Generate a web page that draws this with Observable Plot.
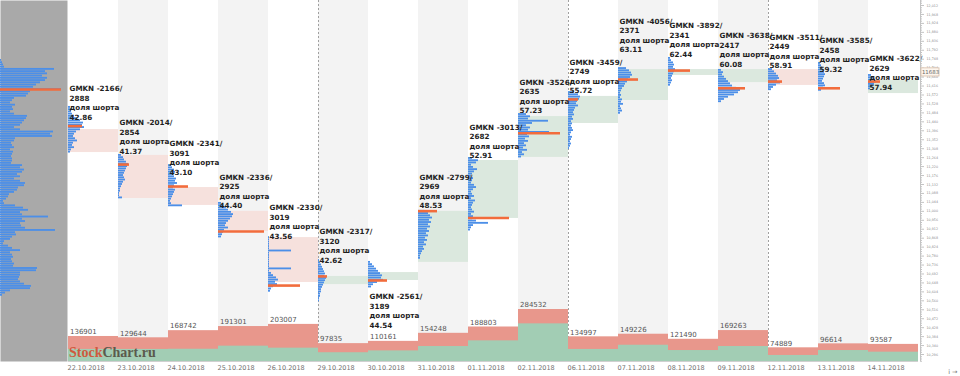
<!DOCTYPE html>
<html><head><meta charset="utf-8">
<script src="https://cdn.jsdelivr.net/npm/d3@7"></script>
<script src="https://cdn.jsdelivr.net/npm/@observablehq/plot@0.6"></script>
<style>
body{margin:0;background:#fff;}
#wrap{position:relative;width:960px;height:376px;overflow:hidden;font-family:"DejaVu Sans",sans-serif;}
#wrap svg{position:absolute;top:0;left:0;}
#wm{position:absolute;left:69px;top:346px;font:bold 14px/14px "Liberation Serif",serif;letter-spacing:0;}
</style></head><body><div id="wrap"></div>
<script>
// ---------- data ----------
const dates = ["22.10.2018","23.10.2018","24.10.2018","25.10.2018","26.10.2018","29.10.2018","30.10.2018","31.10.2018","01.11.2018","02.11.2018","06.11.2018","07.11.2018","08.11.2018","09.11.2018","12.11.2018","13.11.2018","14.11.2018"];
const volTotal = [136901,129644,168742,191301,203007,97835,110161,154248,188803,284532,134997,149226,121490,169263,74889,96614,93587];
const volGreen = [66000,66000,67000,84000,73000,48000,58000,82000,113000,206000,66000,89000,60000,82000,33000,60000,51000];
const shortNet = [-2166,-2014,-2341,-2336,-2330,-2317,-2561,-2799,-3013,-3526,-3459,-4056,-3892,-3638,-3511,-3585,-3622];
const shortLong = [2888,2854,3091,2925,3019,3120,3189,2969,2682,2635,2749,2371,2341,2417,2449,2458,2629];
const shortShare = ["42.86","41.37","43.10","44.40","43.56","42.62","44.54","48.53","52.91","57.23","55.72","63.11","62.44","60.08","58.91","59.32","57.94"];
const noteLevel = [11604,11437,11334,11168,11020,10901,10581,11168,11414,11635,11733,11935,11914,11864,11856,11840,11751];
const openPx  = [11402,11275,11117,11000,10871,10640,10660,10749,10965,11265,11432,11545,11668,11633,11697,11605,11579];
const closePx = [11289,11063,11029,10901,10650,10680,10699,11000,11250,11466,11565,11697,11697,11697,11619,11605,11643];
const pocPrice = [11419,11230,11122,10901,10635,10680,10660,11001,10967,11384,11550,11648,11692,11605,11638,11605,11638];
const pocVol   = [14,11,20,46,32,9,19,19,41,42,10,20,22,27,14,22,12];
const profileTop = [11511,11275,11225,11039,10871,10758,10749,11000,11260,11476,11584,11702,11752,11693,11697,11727,11668];
const profileVol = [
  [2,3,3,4,6,9,12,15,14,16,12,8,6,5,7,9,5,4,6,3,2],
  [3,5,6,8,10,9,8,7,6,5,6,7,5,4,3,2,2,1,1,4],
  [3,4,6,7,5,6,8,7,9,6,5,7,6,5,4,3,2,3,14],
  [3,5,8,10,13,15,14,12,10,8,7,10,6,5,4,3],
  [1,1,1,1,1,1,23,1,1,1,1,1,1,1,23,1,3,5,8,10,7,9,5,3,2],
  [1,2,3,4,5,6,7,6,8,7,6,5,4,3,3,2,2,1,1],
  [2,4,6,8,10,12,14,13,15,9,5,3],
  [6,10,12,14,11,13,10,12,9,11,8,10,7,9,6,8,5,6,4,3,2,2],
  [4,10,8,3,5,9,6,4,3,5,4,3,6,8,5,3,4,6,3,7,5,4,3,4,6,3,5,4,8,20,5,3,2],
  [8,12,10,30,14,8,12,10,31,9,11,7,10,6,8,5,9,4,6,3],
  [6,10,12,11,9,8,10,7,6,5,6,4,5,3,4,3,4,5,3,2,4,3,2,3,2,1],
  [8,11,13,14,12,10,9,7,6,4,3,2,3,2,4,3,5,2,3,4,2],
  [2,3,5,6,5,7,6,5,4,3,4,3,2],
  [3,5,4,6,8,10,12,14,18,22,20,16,10,6,3],
  [4,6,8,10,11,9,12,8,5,3],
  [2,3,4,5,6,7,6,5,4,6,7,5,3],
  [3,5,7,8,6,4,2]
];
const totalProfileTop = 11742;
const totalProfileVol = [1,2,3,4,54,45,47,42,47,45,40,36,33,61,30,28,26,14,12,10,15,12,13,10,14,27,26,24,22,20,14,20,53,50,52,15,14,11,12,14,10,13,12,11,12,12,11,22,20,24,22,17,20,14,20,25,24,18,17,14,9,8,6,3,4,15,23,28,20,22,48,22,25,20,21,25,55,15,16,12,10,4,3,8,12,20,10,12,13,11,12,14,13,37,36,20,20,19,18,20,24,31,30,10,5,2];
const lastPrice = 11683;
const priceStep = 11;
const majorTicks = d3.range(10296, 12013, 44);
const minorTicks = d3.range(10263, 12036, 11).filter(v => (v - 10296) % 44 !== 0);

// ---------- scales setup ----------
const Y_TOP = 12036.6, Y_BOTTOM = 10261.7;
const DAY_FULL = 50;      // profile volume that fills a full day column
const N = dates.length;
const parse = d3.timeParse("%d.%m.%Y");
const days = dates.map((d, i) => ({
  i, date: d, total: volTotal[i], green: volGreen[i],
  open: openPx[i], close: closePx[i], note: noteLevel[i],
  label: `GMKN ${shortNet[i]}/\n${shortLong[i]}\nдоля шорта\n${shortShare[i]}`,
  poc: pocPrice[i], pocV: pocVol[i]
}));
const weekStarts = days.filter((d, i) => i > 0 && (parse(d.date) - parse(dates[i - 1])) > 86400000 * 1.5).map(d => d.i);
const bins = days.flatMap(d => profileVol[d.i].map((v, k) => ({i: d.i, p: profileTop[d.i] - priceStep * k, v})));
const totalBins = totalProfileVol.map((v, k) => ({p: totalProfileTop - priceStep * k, v}));
const totalPoc = totalBins.reduce((a, b) => b.v > a.v ? b : a);
const h = priceStep * 0.41;

const wrap = document.getElementById("wrap");

const main = Plot.plot({
  width: 960, height: 376, marginLeft: 68, marginRight: 42, marginTop: 0, marginBottom: 15,
  x: {type: "linear", domain: [0, N], axis: null},
  y: {domain: [Y_BOTTOM, Y_TOP], axis: null},
  style: {fontFamily: "DejaVu Sans, sans-serif", background: "white", overflow: "visible"},
  marks: [
    Plot.rect(days.filter(d => d.i % 2 === 1), {x1: "i", x2: d => d.i + 1, y1: () => Y_BOTTOM, y2: () => Y_TOP, fill: "#f3f3f3"}),
    Plot.ruleX(weekStarts, {stroke: "#a0a0a0", strokeDasharray: "2,2", strokeWidth: 1}),
    Plot.rect(days.filter(d => d.close < d.open), {x1: "i", x2: d => d.i + 1, y1: "open", y2: "close", fill: "#f6e1dd"}),
    Plot.rect(days.filter(d => d.close > d.open), {x1: "i", x2: d => d.i + 1, y1: "open", y2: "close", fill: "#dbe8de"}),
    Plot.rect(bins, {x1: "i", x2: d => d.i + d.v / DAY_FULL, y1: d => d.p - h, y2: d => d.p + h, fill: "#4c8fe8"}),
    Plot.ruleY(days, {y: "poc", x1: "i", x2: d => d.i + d.pocV / DAY_FULL, stroke: "#f26c3c", strokeWidth: 2.6}),
    Plot.text(days, {x: "i", y: "note", text: "label", textAnchor: "start", lineAnchor: "top", dx: 1, dy: -4,
      fontSize: 7.2, fontWeight: "bold", lineHeight: 1.32, fill: "#1e1e1e"}),
    Plot.ruleX([N], {dx: 2, stroke: "#c4c4c4"}),
    Plot.ruleY(minorTicks, {x1: () => N + 0.04, x2: () => N + 0.08, stroke: "#c4c4c4"}),
    Plot.axisY(majorTicks, {anchor: "right", tickSize: 3, tickPadding: 3, dx: 2, fontSize: 3.3, fill: "#8a8a8a", stroke: "#c4c4c4"}),
    Plot.rect([lastPrice], {x1: () => N + 0.06, x2: () => N + 0.42, y1: d => d - 20, y2: d => d + 20, fill: "#fdf6ee", stroke: "#d7bca6", strokeWidth: 0.8}),
    Plot.text([lastPrice], {x: () => N + 0.24, y: d => d, text: d => String(d), fontSize: 5.4, fill: "#666"}),
    Plot.axisX(d3.range(N), {anchor: "bottom", tickSize: 0, tickPadding: 3.5, textAnchor: "start", dx: -1,
      tickFormat: v => dates[v], fontSize: 6.5, fill: "#707070"})
  ]
});
wrap.appendChild(main);

const vol = Plot.plot({
  width: 960, height: 376, marginLeft: 68, marginRight: 42, marginTop: 309, marginBottom: 15,
  x: {type: "linear", domain: [0, N], axis: null},
  y: {domain: [0, d3.max(volTotal)], axis: null},
  style: {fontFamily: "DejaVu Sans, sans-serif", background: "transparent", overflow: "visible"},
  marks: [
    Plot.rect(days, {x1: "i", x2: d => d.i + 1, y1: () => 0, y2: "total", fill: "#e8978c"}),
    Plot.rect(days, {x1: "i", x2: d => d.i + 1, y1: () => 0, y2: "green", fill: "#a2cdb4"}),
    Plot.ruleY([0], {stroke: "#d0d0d0"}),
    Plot.text(days, {x: "i", y: "total", text: d => String(d.total), textAnchor: "start", dx: 1.5, dy: -4.5, fontSize: 7, fill: "#555"})
  ]
});
wrap.appendChild(vol);

const left = Plot.plot({
  width: 67, height: 376, marginLeft: 0, marginRight: 0, marginTop: 0, marginBottom: 15,
  x: {type: "linear", domain: [0, 67], axis: null},
  y: {domain: [Y_BOTTOM, Y_TOP], axis: null},
  style: {background: "transparent", overflow: "visible"},
  marks: [
    Plot.frame({fill: "#a9a9a9", stroke: "none"}),
    Plot.rect(totalBins, {x1: () => 0, x2: "v", y1: d => d.p - h, y2: d => d.p + h, fill: "#4c8fe8"}),
    Plot.ruleY([totalPoc], {y: "p", x1: () => 0, x2: "v", stroke: "#f26c3c", strokeWidth: 2.6})
  ]
});
wrap.appendChild(left);

const wm = document.createElement("div");
wm.id = "wm";
wm.innerHTML = '<span style="color:#cf5a3e">Stock</span><span style="color:#5b5a4c">Chart.ru</span>';
wrap.appendChild(wm);
</script></body></html>
